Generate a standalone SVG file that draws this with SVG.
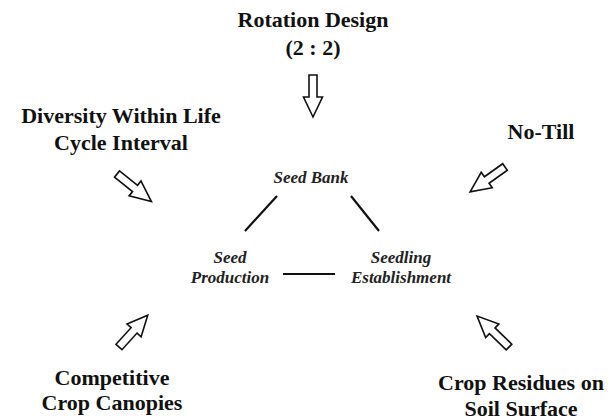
<svg xmlns="http://www.w3.org/2000/svg" width="616" height="420" viewBox="0 0 616 420">
<style>
.h{font-family:"Liberation Serif","Times New Roman",serif;font-weight:bold;font-size:22px;fill:#111;text-anchor:middle}
.c{font-family:"Liberation Serif","Times New Roman",serif;font-weight:bold;font-style:italic;font-size:17px;fill:#222;text-anchor:middle}
.ln{stroke:#111;stroke-width:2.2;fill:none}
.ar{fill:#fff;stroke:#111;stroke-width:1.6;stroke-linejoin:miter}
</style>
<defs>
<path id="arrow" class="ar" d="M0,-4 H22 V-9.5 L42,0 L22,9.5 V4 H0 Z"/>
</defs>
<rect width="616" height="420" fill="#fff"/>
<g id="rotation-design">
<text class="h" x="313" y="27">Rotation Design</text>
<text class="h" x="313" y="55">(2 : 2)</text>
</g>
<g id="diversity">
<text class="h" x="121" y="123">Diversity Within Life</text>
<text class="h" x="121" y="150">Cycle Interval</text>
</g>
<g id="no-till">
<text class="h" x="541" y="139">No-Till</text>
</g>
<g id="competitive">
<text class="h" x="112" y="385">Competitive</text>
<text class="h" x="112" y="410">Crop Canopies</text>
</g>
<g id="crop-residues">
<text class="h" x="521" y="390">Crop Residues on</text>
<text class="h" x="521" y="416">Soil Surface</text>
</g>
<g id="seed-bank">
<text class="c" x="311" y="183">Seed Bank</text>
</g>
<g id="seed-production">
<text class="c" x="230" y="263">Seed</text>
<text class="c" x="230" y="283">Production</text>
</g>
<g id="seedling-establishment">
<text class="c" x="401" y="263">Seedling</text>
<text class="c" x="401" y="283">Establishment</text>
</g>
<g id="connectors">
<line class="ln" x1="277" y1="196" x2="245" y2="231"/>
<line class="ln" x1="351" y1="196" x2="379" y2="231"/>
<line class="ln" x1="283" y1="274" x2="335" y2="274"/>
<use href="#arrow" transform="translate(313,75) rotate(90)"/>
<use href="#arrow" transform="translate(117,174) rotate(38.7) scale(1.05,1)"/>
<use href="#arrow" transform="translate(505,167) rotate(144.5) scale(1.02,1)"/>
<use href="#arrow" transform="translate(119,347) rotate(-47.8) scale(1.02,1)"/>
<use href="#arrow" transform="translate(509,347) rotate(-135.9) scale(1.06,1)"/>
</g>
</svg>
